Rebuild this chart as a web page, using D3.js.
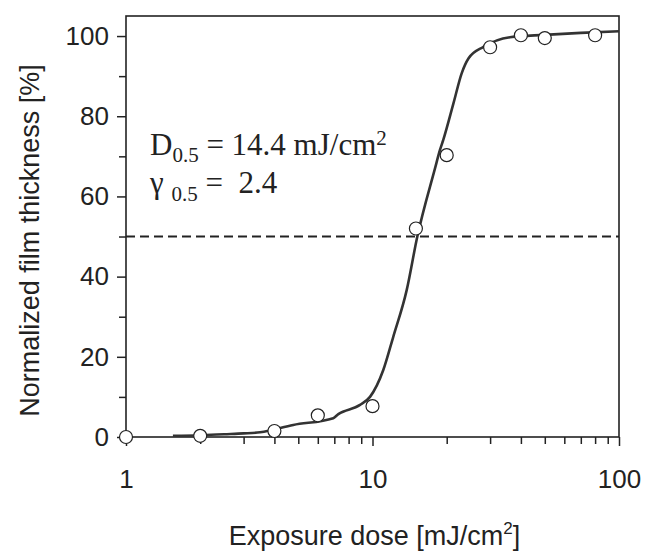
<!DOCTYPE html>
<html>
<head>
<meta charset="utf-8">
<script src="https://cdn.jsdelivr.net/npm/d3@7"></script>
<style>
  body { margin: 0; background: #fff; }
  svg { display: block; }
</style>
</head>
<body>
<script>
window.onload = main;

// measured points
const doseValues = [1, 2, 4, 6, 10, 15, 20, 30, 40, 50, 80];
const thicknessValues = [0, 0.3, 1.5, 5.4, 7.7, 52, 70.3, 97.2, 100.2, 99.5, 100.2];

// fitted curve
const fitDose = [1.55, 2, 2.5, 3, 3.5, 4.77, 6.93, 7.27, 8.9, 9.77, 11.06, 12.14, 13.77, 15.2,
                 17.93, 18.78, 19.37, 21.3, 23.0, 24.5, 28.2, 36.1, 50, 70, 100];
const fitThickness = [0.3, 0.45, 0.7, 0.9, 1.17, 3.0, 4.7, 5.7, 8.0, 10.0, 16.7, 25.0, 36.7, 50,
                      67.0, 71.6, 74.1, 83.2, 90.7, 94.4, 97.3, 99.7, 100.3, 100.8, 101.2];

const xTickLabels = [1, 10, 100];
const yTickLabels = [0, 20, 40, 60, 80, 100];
const halfLevel = 50;

const svgWidth = 645;
const svgHeight = 552;
const margin = {top: 16, right: 26, bottom: 115, left: 126};
const chartWidth = svgWidth - margin.left - margin.right;
const chartHeight = svgHeight - margin.top - margin.bottom;

function main() {
    const svg = d3.select("body")
        .append("svg")
        .attr("width", svgWidth)
        .attr("height", svgHeight);

    const g = svg.append("g")
        .attr("transform", `translate(${margin.left}, ${margin.top})`);

    const x = d3.scaleLog().domain([1, 100]).range([0, chartWidth]);
    const y = d3.scaleLinear().domain([0, 105]).range([chartHeight, 0]);

    const ink = "#222";
    const tickFont = "Liberation Sans, Arial, sans-serif";

    // frame
    g.append("rect")
        .attr("width", chartWidth)
        .attr("height", chartHeight)
        .attr("fill", "none")
        .attr("stroke", ink)
        .attr("stroke-width", 1.6);

    // x minor ticks
    const xMinor = [];
    for (let d = 1; d <= 2; d++) {
        for (let k = 2; k <= 9; k++) xMinor.push(k * Math.pow(10, d - 1));
    }
    g.append("g")
        .attr("transform", `translate(0, ${chartHeight})`)
        .call(d3.axisBottom(x).tickValues(xMinor).tickSize(7).tickFormat(""))
        .call(a => a.select(".domain").remove())
        .selectAll("line").attr("stroke", ink).attr("stroke-width", 1.5);

    // x major ticks
    const xAxis = g.append("g")
        .attr("transform", `translate(0, ${chartHeight})`)
        .call(d3.axisBottom(x).tickValues(xTickLabels).tickSize(9).tickPadding(24)
            .tickFormat(d3.format("d")));
    xAxis.select(".domain").remove();
    xAxis.selectAll("line").attr("stroke", ink).attr("stroke-width", 1.5);
    xAxis.selectAll("text")
        .attr("fill", ink)
        .style("font-family", tickFont)
        .style("font-size", "26px");

    // y minor ticks
    g.append("g")
        .call(d3.axisLeft(y).tickValues([10, 30, 50, 70, 90]).tickSize(7).tickFormat(""))
        .call(a => a.select(".domain").remove())
        .selectAll("line").attr("stroke", ink).attr("stroke-width", 1.5);

    // y major ticks
    const yAxis = g.append("g")
        .call(d3.axisLeft(y).tickValues(yTickLabels).tickSize(9).tickPadding(8));
    yAxis.select(".domain").remove();
    yAxis.selectAll("line").attr("stroke", ink).attr("stroke-width", 1.5);
    yAxis.selectAll("text")
        .attr("fill", ink)
        .style("font-family", tickFont)
        .style("font-size", "26px");

    // 50% line
    g.append("line")
        .attr("x1", 0).attr("x2", chartWidth)
        .attr("y1", y(halfLevel)).attr("y2", y(halfLevel))
        .attr("stroke", ink)
        .attr("stroke-width", 1.8)
        .attr("stroke-dasharray", "9,5");

    // fit curve
    const fit = fitDose.map((d, i) => [d, fitThickness[i]]);
    g.append("path")
        .datum(fit)
        .attr("d", d3.line().x(d => x(d[0])).y(d => y(d[1])).curve(d3.curveMonotoneX))
        .attr("fill", "none")
        .attr("stroke", "#333")
        .attr("stroke-width", 2.6);

    // data points
    const pts = doseValues.map((d, i) => [d, thicknessValues[i]]);
    g.selectAll(null)
        .data(pts)
        .join("circle")
        .attr("cx", d => x(d[0]))
        .attr("cy", d => y(d[1]))
        .attr("r", 6.5)
        .attr("fill", "#fff")
        .attr("stroke", ink)
        .attr("stroke-width", 1.2);

    // annotation
    const serif = "Liberation Serif, Times New Roman, serif";
    const t1 = svg.append("text")
        .attr("x", 150).attr("y", 155)
        .attr("fill", ink)
        .style("font-family", serif)
        .style("font-size", "31px");
    t1.append("tspan").text("D");
    t1.append("tspan").attr("dy", 7).style("font-size", "21px").text("0.5");
    t1.append("tspan").attr("dy", -7).text(" = 14.4 mJ/cm");
    t1.append("tspan").attr("dy", -10).style("font-size", "21px").text("2");

    const t2 = svg.append("text")
        .attr("x", 150).attr("y", 193)
        .attr("fill", ink)
        .style("font-family", serif)
        .style("font-size", "31px");
    t2.append("tspan").text("γ ");
    t2.append("tspan").attr("dy", 8).style("font-size", "21px").text("0.5");
    t2.append("tspan").attr("dy", -8).text(" =  2.4")
        .attr("xml:space", "preserve").style("white-space", "pre");

    // axis titles
    svg.append("text")
        .attr("x", margin.left + chartWidth / 2 + 2)
        .attr("y", 545)
        .attr("text-anchor", "middle")
        .attr("fill", ink)
        .style("font-family", tickFont)
        .style("font-size", "27px")
        .call(t => {
            t.append("tspan").text("Exposure dose [mJ/cm");
            t.append("tspan").attr("dy", -11).style("font-size", "17px").text("2");
            t.append("tspan").attr("dy", 11).text("]");
        });

    svg.append("text")
        .attr("transform", `translate(39, ${margin.top + chartHeight / 2 + 14}) rotate(-90)`)
        .attr("text-anchor", "middle")
        .attr("fill", ink)
        .style("font-family", tickFont)
        .style("font-size", "27px")
        .text("Normalized film thickness [%]");
}
</script>
</body>
</html>
